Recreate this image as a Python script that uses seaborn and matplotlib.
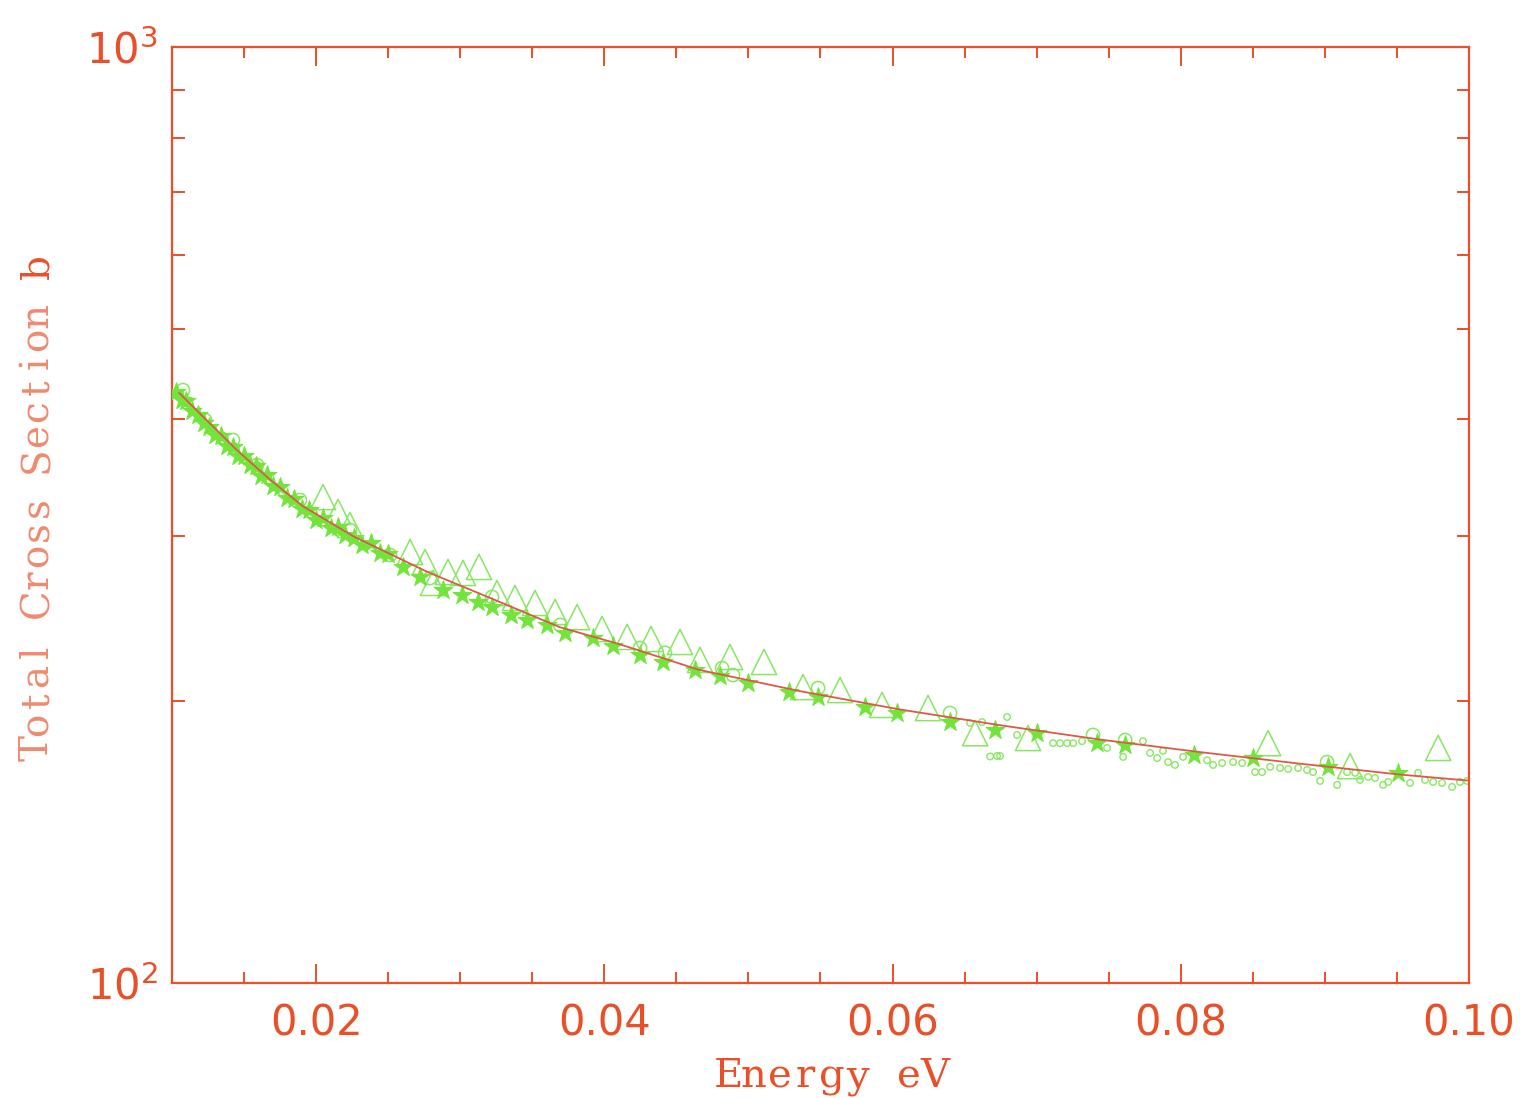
import numpy as np
import pandas as pd
import matplotlib
matplotlib.use("Agg")
import matplotlib.pyplot as plt
import matplotlib.ticker as mticker
import seaborn as sns

# ---------------- data ----------------
curve_e = [0.0105, 0.0111, 0.0145, 0.0168, 0.0191, 0.0226, 0.0277, 0.0323, 0.0369,
           0.0411, 0.0466, 0.0536, 0.0605, 0.0675, 0.0744, 0.0813, 0.0883, 0.0952, 0.1000]
curve_s = [427, 418, 371, 345, 323, 300, 275, 257, 240,
           230, 216, 205, 196, 188.5, 182, 176.5, 171.5, 167, 164.5]

star_e = [0.0103, 0.0107, 0.0110, 0.0114, 0.0118, 0.0122, 0.0126, 0.0130, 0.0134, 0.0138,
          0.0142, 0.0146, 0.0150, 0.0154, 0.0158, 0.0162, 0.0166, 0.0170, 0.0175, 0.0180,
          0.0185, 0.0190, 0.0195, 0.0200, 0.0205, 0.0210, 0.0215, 0.0220, 0.0226, 0.0232,
          0.0238, 0.0244, 0.0250,
          0.0260, 0.0272, 0.0288, 0.0301, 0.0312, 0.0322, 0.0335, 0.0346, 0.0360, 0.0373,
          0.0392, 0.0406, 0.0425, 0.0441, 0.0463, 0.0480, 0.0500, 0.0528, 0.0548, 0.0581,
          0.0603, 0.0640, 0.0671, 0.0700, 0.0742, 0.0761, 0.0809, 0.0850, 0.0902, 0.0951]
star_s = [428, 420, 419, 408, 404, 397, 393, 385, 384, 375,
          374, 366, 366, 358, 357, 348, 349, 340, 339, 330,
          329, 321, 320, 312, 314, 306, 307, 301, 299, 294,
          295, 288, 287,
          278.3, 271.5, 263.0, 259.7, 255.3, 252.2, 247.3, 244.3, 241.3, 236.5,
          233.7, 229.1, 224.1, 220.3, 216.0, 212.8, 209.2, 204.6, 202.1, 197.2,
          194.3, 190.0, 186.3, 184.9, 180.4, 179.6, 175.3, 173.9, 170.2, 167.7]

circ_e = [0.01076, 0.01229, 0.01423, 0.01590, 0.01888, 0.02235, 0.02513, 0.02790, 0.03221,
          0.03693, 0.04248, 0.04421, 0.04817, 0.04893, 0.05483, 0.06399, 0.07391, 0.07614,
          0.09015]
circ_s = [430.0, 399.5, 380.3, 357.6, 328.1, 304.8, 286.6, 270.8, 258.5,
          241.3, 228.0, 225.3, 217.0, 213.3, 206.6, 194.3, 184.1, 181.8,
          172.2]

tri_e = [0.02048, 0.02152, 0.02235, 0.02652, 0.02756, 0.02811, 0.02915, 0.03019, 0.03130,
         0.03255, 0.03380, 0.03519, 0.03658, 0.03811, 0.03984, 0.04158, 0.04324, 0.04525,
         0.04664, 0.04872, 0.05108, 0.05379, 0.05636, 0.05927, 0.06246, 0.06573, 0.06940,
         0.08606, 0.09175, 0.09786]
tri_s = [330.5, 318.6, 308.5, 288.7, 281.7, 267.6, 274.9, 274.2, 278.3,
         261.0, 257.8, 254.7, 249.1, 246.0, 238.9, 234.3, 233.1, 231.4,
         221.4, 223.0, 220.3, 207.1, 205.6, 198.2, 196.7, 184.9, 182.7,
         180.4, 170.5, 178.3]

small_e = [0.06538, 0.06621, 0.06677, 0.06725, 0.06746, 0.06795, 0.06864, 0.07114, 0.07162,
           0.07211, 0.07253, 0.07315, 0.07489, 0.07600, 0.07738, 0.07787, 0.07836, 0.07877,
           0.07912, 0.07960, 0.08016, 0.08183, 0.08224, 0.08287, 0.08363, 0.08426, 0.08516,
           0.08564, 0.08620, 0.08689, 0.08745, 0.08814, 0.08876, 0.08918, 0.08967, 0.09085,
           0.09154, 0.09210, 0.09244, 0.09300, 0.09348, 0.09404, 0.09439, 0.09591, 0.09647,
           0.09695, 0.09751, 0.09813, 0.09883, 0.09938, 0.09987]
small_s = [189.6, 190.0, 174.6, 174.8, 174.8, 192.4, 184.1, 180.4, 180.4,
           180.4, 180.4, 181.3, 178.3, 174.4, 181.3, 176.1, 173.9, 177.0,
           172.2, 171.0, 174.4, 173.0, 171.0, 171.8, 172.2, 171.8, 168.0,
           168.0, 170.2, 169.7, 169.3, 169.7, 168.9, 168.0, 164.4, 162.8,
           168.0, 167.7, 164.8, 166.0, 165.6, 162.8, 164.0, 163.6, 167.7,
           164.8, 164.0, 163.6, 162.0, 164.0, 164.4]

x_ticks = [0.02, 0.04, 0.06, 0.08, 0.10]
x_tick_labels = ["0.02", "0.04", "0.06", "0.08", "0.10"]
x_label = "Energy eV"
y_label_main = "Total Cross Section "
y_label_unit = "b"

# ---------------- style ----------------
AX = "#e8502a"
GREEN = "#72e43c"
GREEN_OPEN = "#86e862"
LIGHT = "#ef8a70"
SERIF = ["DejaVu Serif"]
W, H = 1520, 1098

sns.set_style("white")
plt.rcParams["font.family"] = ["DejaVu Sans"]

fig = plt.figure(figsize=(W / 100, H / 100), dpi=100)
ax = fig.add_axes([172 / W, 1 - 983 / H, (1469 - 172) / W, (983 - 47) / H])

sns.scatterplot(x=small_e, y=small_s, marker="o", s=22, facecolors="none",
                edgecolors=GREEN_OPEN, linewidths=1.0, ax=ax, zorder=2)
sns.scatterplot(x=circ_e, y=circ_s, marker="o", s=90, facecolors="none",
                edgecolors=GREEN_OPEN, linewidths=1.1, ax=ax, zorder=3)
sns.scatterplot(x=tri_e, y=tri_s, marker="^", s=330, facecolors="none",
                edgecolors=GREEN_OPEN, linewidths=1.1, ax=ax, zorder=3)
sns.scatterplot(x=star_e, y=star_s, marker="*", s=200, color=GREEN,
                edgecolor=GREEN, linewidth=0.8, ax=ax, zorder=4)
sns.lineplot(x=curve_e, y=curve_s, color="#e0584a", lw=1.3, ax=ax, zorder=5,
             estimator=None, sort=True)

ax.set_yscale("log")
ax.set_xlim(0.01, 0.10)
ax.set_ylim(100, 1000)

ax.set_xticks(x_ticks)
ax.set_xticklabels(x_tick_labels)
ax.xaxis.set_minor_locator(mticker.MultipleLocator(0.005))
ax.yaxis.set_major_locator(mticker.LogLocator(base=10))
ax.yaxis.set_minor_locator(mticker.LogLocator(base=10, subs=np.arange(2, 10)))
ax.yaxis.set_minor_formatter(mticker.NullFormatter())

for s in ax.spines.values():
    s.set_color(AX)
    s.set_linewidth(1.6)

ax.tick_params(which="both", direction="in", top=True, right=True, bottom=True, left=True,
               color=AX, width=1.4, labelcolor=AX)
ax.tick_params(axis="x", which="major", length=14, pad=14, labelsize=30)
ax.tick_params(axis="x", which="minor", length=8)
ax.tick_params(axis="y", which="major", length=14, pad=10, labelsize=30)
ax.tick_params(axis="y", which="minor", length=9)
ax.set_xlabel("")
ax.set_ylabel("")

# axis labels drawn glyph by glyph on a fixed (typewriter-like) pitch
x_adv = 25.9
x0 = 715 + x_adv / 2
for i, ch in enumerate(x_label):
    if ch != " ":
        fig.text((x0 + i * x_adv) / W, 1 - 1087 / H, ch, color=AX, family=SERIF,
                 fontsize=29, ha="center", va="baseline")

y_adv = 24.05
y0 = 760 - y_adv / 2
for i, ch in enumerate(y_label_main + y_label_unit):
    if ch == " ":
        continue
    col = LIGHT if i < len(y_label_main) else AX
    fig.text(48 / W, 1 - (y0 - i * y_adv) / H, ch, color=col, family=SERIF,
             fontsize=28, rotation=90, rotation_mode="anchor",
             ha="center", va="baseline")

ax.grid(False)
fig.savefig("out.png", dpi=100)
